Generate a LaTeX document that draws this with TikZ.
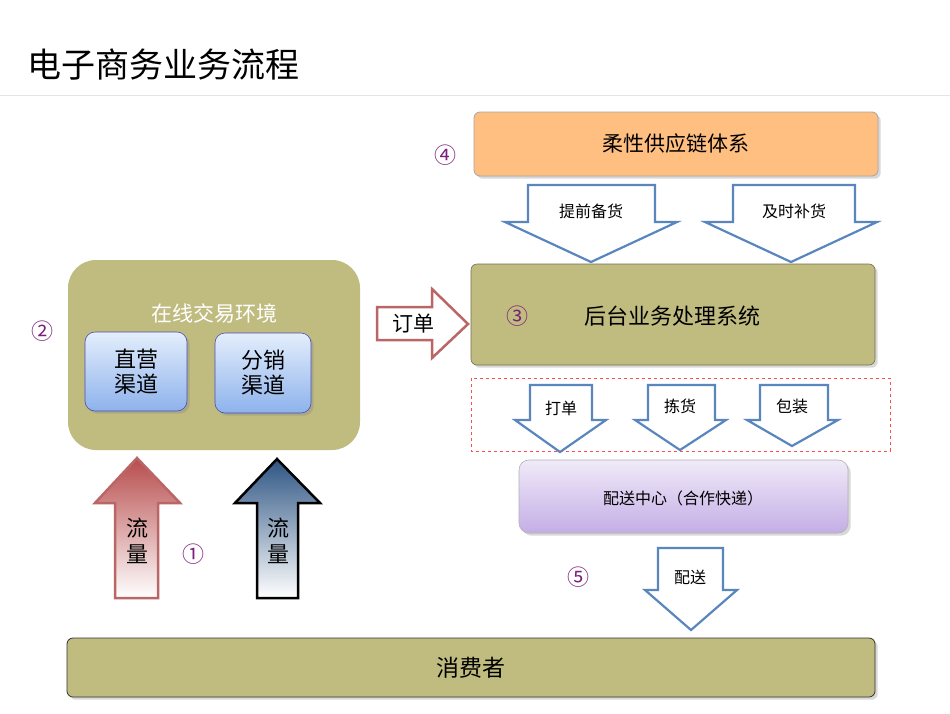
\documentclass[tikz,border=0pt]{standalone}
\usepackage{fontspec}
\setmainfont{Noto Sans CJK SC}
\usetikzlibrary{shadows}
\definecolor{olive}{HTML}{C0BC80}
\definecolor{num}{HTML}{7A1F7A}
\definecolor{arrb}{HTML}{5A86BE}
\definecolor{chtop}{HTML}{E4EEFC}
\definecolor{chbot}{HTML}{8DB2EC}
\definecolor{pctop}{HTML}{F0EAF8}
\definecolor{pcbot}{HTML}{C4AEE6}
\definecolor{steel}{HTML}{2E5583}
\tikzset{
  oliv/.style={fill=olive,draw=olive!60!black,line width=0.6pt,rounded corners=6pt},
  blk/.style={draw=arrb,line width=2.2pt,fill=white,line join=miter},
  lbl/.style={font=\fontsize{16}{16}\selectfont},
  nm/.style={text=num,font=\fontsize{22}{22}\selectfont},
  chan/.style={draw=blue!40!gray,line width=0.6pt,rounded corners=10pt,top color=chtop,bottom color=chbot,drop shadow={opacity=0.3}}
}
\begin{document}
\begin{tikzpicture}[x=1pt,y=-1pt]
\useasboundingbox (0,0) rectangle (950,713);
\fill[white] (0,0) rectangle (950,713);
\node[anchor=west,font=\fontsize{34}{34}\selectfont] (title) at (24,65) {电子商务业务流程};
\draw[gray!20,line width=0.8pt] (0,95) -- (950,95);
% online env
\fill[olive,rounded corners=28pt] (68,260) rectangle (360,450);
\node[text=white,font=\fontsize{21}{21}\selectfont] (env) at (214,313) {在线交易环境};
\draw[chan] (85,332) rectangle (187,411);
\node[font=\fontsize{22}{25}\selectfont,align=center] (zy) at (136,372) {直营\\渠道};
\draw[chan] (215,333) rectangle (311,413);
\node[font=\fontsize{22}{25}\selectfont,align=center] (fx) at (263,373) {分销\\渠道};
% up arrows
\shade[top color=red!60!black!70,bottom color=white,draw=red!55!black!60,line width=2.5pt]
 (115,598) -- (115,503) -- (95,503) -- (137,458) -- (180,503) -- (158,503) -- (158,598) -- cycle;
\shade[top color=steel,bottom color=white,draw=black,line width=2.5pt]
 (257,598) -- (257,503) -- (235,503) -- (277,459) -- (320,503) -- (298,503) -- (298,598) -- cycle;
\node[font=\fontsize{22}{26}\selectfont,align=center] (l1) at (137,541) {流\\量};
\node[font=\fontsize{22}{26}\selectfont,align=center] (l2) at (278,541) {流\\量};
\node[nm] (n1) at (193,554) {①};
\node[nm] (n2) at (42,331) {②};
% order arrow
\draw[draw=red!55!black!60,line width=2.5pt,fill=white,line join=miter]
 (377,307) -- (432,307) -- (432,289) -- (468,324) -- (432,358) -- (432,340) -- (377,340) -- cycle;
\node[font=\fontsize{21}{21}\selectfont] (dd) at (413,324) {订单};
% supply chain
\draw[fill=orange!50!white,draw=gray!70,line width=0.8pt,rounded corners=6pt,drop shadow={opacity=0.3}] (474,112) rectangle (878,176);
\node[font=\fontsize{21}{21}\selectfont] (sc) at (676,144) {柔性供应链体系};
\node[nm] (n4) at (445,155) {④};
\draw[blk] (528,185) -- (655,185) -- (655,222) -- (677,222) -- (591,262) -- (505,222) -- (528,222) -- cycle;
\node[lbl] (a1) at (591,211) {提前备货};
\draw[blk] (733,185) -- (855,185) -- (855,222) -- (877,222) -- (791,262) -- (705,222) -- (733,222) -- cycle;
\node[lbl] (a2) at (794,211) {及时补货};
% backend
\draw[oliv,drop shadow={opacity=0.3}] (471,264) rectangle (875,365);
\node[font=\fontsize{22}{22}\selectfont] (bk) at (672,316) {后台业务处理系统};
\node[nm] (n3) at (517,316) {③};
% dashed
\draw[red!70,dashed,line width=0.6pt] (471,378) rectangle (890,451);
\draw[blk] (530,385) -- (592,385) -- (592,420) -- (606,420) -- (560,452) -- (515,420) -- (530,420) -- cycle;
\node[lbl] (b1) at (561,408) {打单};
\draw[blk] (648,385) -- (715,385) -- (715,420) -- (726,420) -- (680,450) -- (635,420) -- (648,420) -- cycle;
\node[lbl] (b2) at (680,406) {拣货};
\draw[blk] (760,385) -- (828,385) -- (828,420) -- (838,420) -- (792,446) -- (747,420) -- (760,420) -- cycle;
\node[lbl] (b3) at (792,406) {包装};
% delivery centre
\draw[draw=gray!60,line width=0.6pt,rounded corners=10pt,top color=pctop,bottom color=pcbot,drop shadow={opacity=0.3}] (519,460) rectangle (848,533);
\node[lbl] (dc) at (683,498) {配送中心（合作快递）};
\draw[blk] (658,548) -- (723,548) -- (723,590) -- (737,590) -- (691,630) -- (645,590) -- (658,590) -- cycle;
\node[lbl] (ps) at (690,577) {配送};
\node[nm] (n5) at (578,577) {⑤};
% consumer
\draw[fill=olive,draw=black!80,line width=0.8pt,rounded corners=6pt,drop shadow={opacity=0.3}] (67,638) rectangle (875,697);
\node[font=\fontsize{23}{23}\selectfont] (cs) at (471,668) {消费者};
\end{tikzpicture}
\end{document}
